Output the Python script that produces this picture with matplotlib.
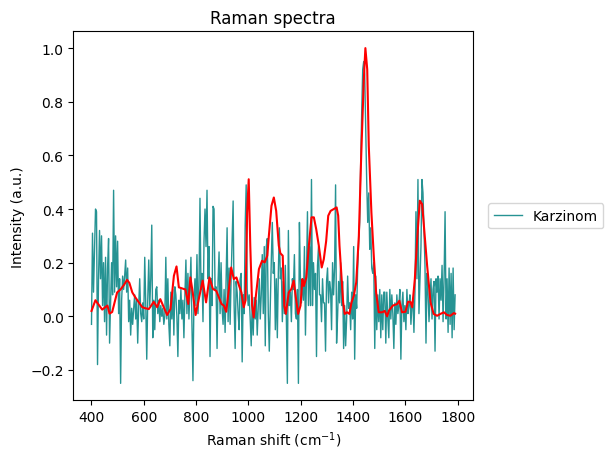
import matplotlib
matplotlib.use("Agg")
import matplotlib.pyplot as plt
import numpy as np

# noisy single spectrum (Karzinom), read left to right, 400 -> 1790 cm^-1
karzinom = [
    -0.03, 0.31, 0.09, 0.25, 0.40, 0.39, -0.18, 0.14, 0.32, 0.14, 0.30, 0.04, 0.20, -0.02, 0.22,
    -0.07, 0.18, 0.29, -0.10, 0.05, 0.20, 0.08, 0.47, 0.09, 0.30, 0.11, 0.28, 0.01, 0.14, -0.25,
    0.06, 0.15, 0.10, 0.15, 0.21, 0.09, 0.18, -0.02, 0.06, -0.07, 0.03, -0.03, 0.03, 0.08, -0.01,
    0.06, -0.10, 0.04, 0.14, 0.01, -0.02, 0.05, -0.01, 0.22,
    0.05, -0.16, 0.06, 0.21, 0.04, 0.14, 0.34, -0.08, 0.06, -0.05, 0.10, 0.11, 0.01, 0.06, -0.02,
    0.04, 0.00, 0.03, -0.03, 0.00, 0.22, -0.01, 0.14, -0.03, -0.11, 0.09, -0.01, 0.10, -0.07, 0.11,
    0.08, 0.00, -0.15, 0.06, 0.01, 0.10, -0.01, 0.06, -0.08, 0.08, 0.21, 0.01, 0.16, -0.01, 0.11,
    0.22, -0.03, -0.24, 0.06, 0.14, 0.04, 0.23, 0.01, 0.11, 0.44, 0.10, 0.16, -0.02, 0.28, 0.40,
    0.26, 0.47,
    0.14, 0.26, -0.15, 0.14, 0.04, 0.41, 0.40, 0.10, 0.11, -0.12, 0.13, 0.24, 0.01, 0.20, 0.03,
    -0.03, 0.10, -0.06, 0.14, 0.33, -0.02, 0.18, -0.03, 0.14, 0.28, 0.43, 0.04, -0.12, 0.13, 0.09,
    0.01, -0.05, 0.14, 0.16, -0.17, 0.08, 0.01, 0.34, 0.49, 0.10, 0.04, 0.08, -0.01, -0.11, 0.06,
    -0.07, 0.07, -0.01, 0.06, -0.07, 0.04, 0.14, -0.01, 0.08, 0.23, 0.01, 0.26, -0.11, 0.26, 0.29,
    0.01,
    -0.13, 0.04, 0.21, 0.35, 0.16, 0.20, -0.05, 0.14, -0.08, 0.16, 0.33, 0.14, 0.18, -0.02, 0.13,
    0.01, 0.19, -0.01, -0.25, 0.32, 0.04, 0.09, -0.02, 0.14, 0.10, 0.23, 0.01, -0.01, 0.10, -0.25,
    0.35, 0.14, 0.05, 0.14, 0.06, 0.26, -0.07, 0.14, 0.39, 0.04, 0.26, 0.04, 0.51, 0.04, 0.20,
    0.10, 0.16, -0.15, 0.19, 0.26, 0.08, 0.08, -0.02, 0.14, 0.05,
    0.05, -0.13, 0.13, 0.18, 0.05, 0.13, 0.10, -0.05, 0.20, 0.08, 0.18, 0.49, -0.10, 0.00, 0.13,
    0.05, 0.20, 0.04, 0.13, -0.12, 0.04, -0.11, -0.01, 0.15, 0.03, 0.05, -0.05, 0.09, -0.01, 0.26,
    -0.16, 0.08, 0.03, 0.18, 0.28, 0.35, 0.57, 0.76, 0.92, 0.95, 0.90, 0.70, 0.50, 0.35, 0.46,
    0.25, 0.33, 0.18, 0.16, 0.20, -0.12, 0.15, -0.05, 0.08, -0.02, 0.10, -0.08, 0.08, -0.05, 0.09,
    0.09, -0.10, 0.09, -0.01, -0.08, 0.10, -0.01, 0.08, 0.01, -0.12, 0.05, -0.03, 0.08, 0.01, 0.04,
    0.10, -0.16, 0.04, 0.09, -0.02, 0.04, -0.05, 0.10, 0.01, 0.04, 0.08, -0.03, 0.04, 0.06, -0.06,
    0.09, 0.39, 0.14, 0.51, 0.01, 0.14, 0.26, 0.51, 0.46, 0.33, 0.19, -0.10, 0.16, 0.09, -0.02,
    0.06, 0.14, -0.01, 0.10, 0.13, -0.13, 0.14, 0.09, 0.15, -0.01, 0.14, 0.06, 0.19, -0.02, 0.14,
    0.39, -0.01, 0.14, -0.06, 0.18, -0.03, 0.16, -0.08, 0.18, -0.05, 0.08,
]
shift_start, shift_end = 400, 1790

# smoothed reference spectrum (red)
ref_shift = [
    400, 415, 441, 453, 461, 469, 479, 498, 511, 524, 536, 545, 556, 568, 581, 594, 606, 619,
    638, 651, 663, 676, 689, 702, 715, 725, 734, 747, 759, 770, 778, 787, 798, 810, 825, 838,
    851, 864, 877, 887, 897, 906, 915, 925, 934, 944, 954, 963, 973, 982, 989, 995, 1001, 1007,
    1014, 1020, 1027, 1040, 1052, 1062, 1072, 1078, 1088, 1097, 1106, 1116, 1122, 1131, 1137,
    1143, 1154, 1164, 1173, 1182, 1190, 1199, 1206, 1212, 1221, 1231, 1241, 1250, 1259, 1269,
    1280, 1288, 1297, 1305, 1314, 1326, 1337, 1343, 1348, 1356, 1362, 1368, 1377, 1386, 1394,
    1403, 1412, 1422, 1431, 1441, 1447, 1454, 1460, 1470, 1479, 1488, 1498, 1511, 1521, 1530,
    1537, 1552, 1569, 1577, 1587, 1600, 1610, 1619, 1626, 1636, 1645, 1655, 1664, 1674, 1683,
    1696, 1708, 1721, 1734, 1747, 1759, 1772, 1785, 1790,
]
ref_intensity = [
    0.02, 0.06, 0.025, 0.034, 0.04, 0.01, 0.016, 0.089, 0.10, 0.117, 0.136, 0.124, 0.089, 0.07,
    0.052, 0.034, 0.03, 0.027, 0.054, 0.034, 0.064, 0.034, 0.005, 0.027, 0.151, 0.186, 0.108,
    0.104, 0.10, 0.046, 0.145, 0.089, 0.005, 0.064, 0.133, 0.052, 0.145, 0.102, 0.095, 0.071,
    0.046, 0.04, 0.017, 0.10, 0.182, 0.139, 0.145, 0.117, 0.089, 0.034, 0.06, 0.387, 0.511,
    0.263, 0.04, -0.004, 0.064, 0.176, 0.207, 0.201, 0.226, 0.30, 0.412, 0.443, 0.393, 0.263,
    0.235, 0.226, 0.04, 0.009, 0.089, 0.102, 0.133, 0.064, 0.009, 0.04, 0.139, 0.113, 0.145,
    0.263, 0.369, 0.369, 0.325, 0.263, 0.182, 0.213, 0.28, 0.375, 0.393, 0.40, 0.406, 0.375,
    0.263, 0.139, 0.052, 0.009, 0.015, 0.009, 0.052, 0.077, 0.127, 0.30, 0.598, 0.884, 1.0,
    0.921, 0.635, 0.387, 0.226, 0.089, 0.015, 0.015, 0.02, 0.0, 0.021, 0.04, 0.046, 0.058,
    0.015, 0.017, 0.054, 0.054, 0.034, 0.139, 0.288, 0.431, 0.418, 0.30, 0.189, 0.052, 0.009,
    0.002, 0.009, 0.015, 0.005, 0.002, 0.012, 0.01,
]

shift = np.linspace(shift_start, shift_end, len(karzinom))

fig = plt.figure(figsize=(6.13, 4.6), dpi=100)
ax = fig.add_axes([0.1196, 0.128, 0.6525, 0.8017])
ax.plot(shift, karzinom, color='teal', alpha=0.85, linewidth=1.0, label='Karzinom')
ax.plot(ref_shift, ref_intensity, color='red', linewidth=1.5)
ax.set_xlabel('Raman shift (cm$^{-1}$)')
ax.set_ylabel('Intensity (a.u.)')
ax.set_title('Raman spectra')
ax.legend(loc='center left', bbox_to_anchor=(1.02, 0.5))

fig.savefig('out.png', dpi=100)
plt.close(fig)
